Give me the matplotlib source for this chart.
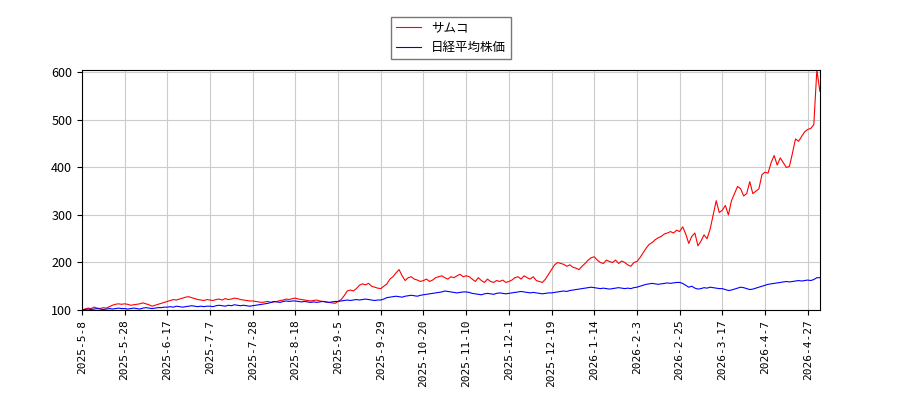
import matplotlib
matplotlib.use("Agg")
import matplotlib.pyplot as plt

plt.rcParams['font.family'] = ['Noto Sans CJK JP', 'DejaVu Sans']

tick_labels = ["2025-5-8", "2025-5-28", "2025-6-17", "2025-7-7", "2025-7-28", "2025-8-18",
               "2025-9-5", "2025-9-29", "2025-10-20", "2025-11-10", "2025-12-1", "2025-12-19",
               "2026-1-14", "2026-2-3", "2026-2-25", "2026-3-17", "2026-4-7", "2026-4-27"]

samco = [
    100,102,104,103,106,104,103,105,104,107,110,112,113,112,
    113,112,110,111,112,113,115,113,111,108,110,112,114,116,
    118,120,122,121,123,125,127,128,126,124,122,121,120,122,
    121,120,122,123,121,124,122,123,125,124,122,121,120,119,
    119,118,117,116,117,118,116,117,118,120,121,123,122,124,
    125,123,122,121,120,119,120,121,119,118,117,116,115,114,
    118,122,130,140,142,140,145,152,155,153,156,150,148,146,
    145,150,155,165,170,178,185,172,162,168,170,165,163,160,
    162,165,160,163,168,170,172,168,165,170,168,172,175,170,
    172,170,165,160,168,162,158,165,160,158,162,160,163,158,
    160,163,168,170,165,172,168,165,170,162,160,158,165,175,
    185,195,200,198,196,192,195,190,188,185,192,198,205,210,
    212,205,200,198,205,202,200,205,198,203,200,195,192,200,
    202,210,220,230,238,242,248,252,255,260,262,265,262,268,
    265,275,260,240,255,262,235,245,258,250,270,300,330,305,
    310,320,300,330,345,360,355,340,345,370,345,350,355,385,
    390,388,410,425,405,420,410,400,402,430,460,455,465,475,
    480,482,490,605,560,
]

nikkei = [
    100,101,102,101,102,103,102,101,102,103,102,103,104,103,
    103,102,103,104,103,102,104,105,104,103,104,105,105,106,
    106,107,106,108,107,106,107,108,109,108,107,108,107,108,
    108,107,109,110,109,108,110,109,111,110,109,110,109,108,
    109,110,111,112,113,114,116,118,117,116,118,119,118,119,
    119,118,117,118,117,116,117,116,117,118,117,116,117,118,
    118,119,120,121,120,121,122,121,122,123,122,121,120,121,
    121,123,126,127,128,129,128,127,129,130,131,130,129,131,
    132,133,134,135,136,137,138,140,139,138,137,136,137,138,
    138,137,135,134,133,132,134,135,134,133,135,136,135,134,
    135,136,137,138,139,138,137,136,137,136,135,134,135,136,
    136,137,138,139,140,139,141,142,143,144,145,146,147,148,
    147,146,145,146,145,144,145,146,147,146,145,146,145,147,
    148,150,152,154,155,156,155,154,155,156,157,156,157,158,
    158,156,152,148,150,146,144,145,147,146,148,147,146,145,
    145,143,141,142,144,146,148,147,145,143,144,146,148,150,
    152,154,155,156,157,158,159,160,159,160,161,162,161,162,
    163,162,164,168,168,
]

x = list(range(len(samco)))

fig = plt.figure(figsize=(9, 4), dpi=100)
ax = fig.add_axes([0.091, 0.225, 0.82, 0.6])
ax.plot(x, samco, color="red", linewidth=0.8, label="サムコ")
ax.plot(x, nikkei, color="blue", linewidth=0.8, label="日経平均株価")
ax.set_xlim(0, len(x) - 1)
ax.set_ylim(100, 605)
ax.set_xticks([i * 14 for i in range(len(tick_labels))])
ax.set_xticklabels(tick_labels, rotation=90, family="DejaVu Sans Mono", fontsize=8)
ax.set_yticks([100, 200, 300, 400, 500, 600])
ax.tick_params(axis="y", labelsize=9)
ax.grid(True, color="#cccccc", linewidth=0.8)
ax.legend(loc="lower center", bbox_to_anchor=(0.5, 1.02), fontsize=9, fancybox=False, edgecolor="#555555")
fig.savefig("out.png")
